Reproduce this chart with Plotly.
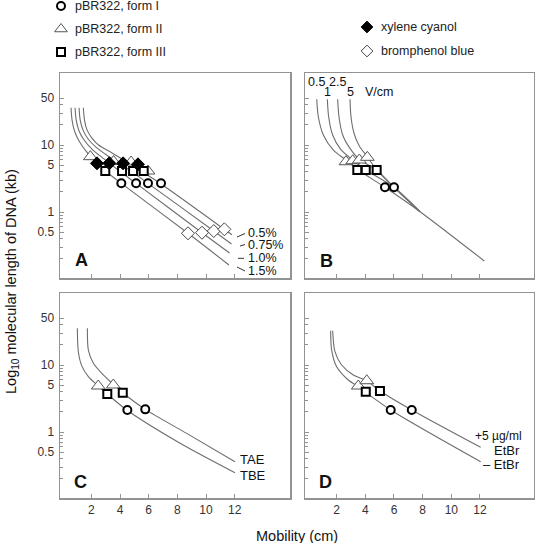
import plotly.graph_objects as go

W, H = 535, 543
FONT = "Liberation Sans, Arial, sans-serif"

# ---------------- Panel A : agarose concentration ----------------
a_curve_names = ["0.5%", "0.75%", "1.0%", "1.5%"]
a05_x = [1.44, 1.52, 1.70, 2.04, 2.50, 3.44, 4.70, 6.86, 11.28, 11.81]
a05_y = [36.0, 23.6, 16.7, 12.7, 10.0, 7.6, 5.2, 2.62, 0.552, 0.457]
a075_x = [1.14, 1.22, 1.42, 1.77, 2.32, 3.16, 4.35, 5.95, 10.54, 11.78]
a075_y = [36.0, 23.6, 16.7, 12.3, 9.3, 6.85, 4.69, 2.68, 0.52, 0.333]
a10_x = [0.86, 0.94, 1.14, 1.49, 2.04, 2.88, 3.86, 5.12, 9.72, 11.64]
a10_y = [36.0, 23.6, 16.2, 11.9, 8.7, 6.2, 4.24, 2.68, 0.491, 0.244]
a15_x = [0.58, 0.65, 0.82, 1.14, 1.63, 2.32, 3.16, 4.09, 8.74, 11.6]
a15_y = [36.0, 23.6, 16.2, 11.5, 8.1, 5.6, 3.82, 2.68, 0.481, 0.162]

a_formI_x = [4.09, 5.12, 5.95, 6.86]
a_formI_y = [2.68, 2.68, 2.68, 2.68]
a_formII_x = [1.93, 3.55, 4.77, 5.95]
a_formII_y = [6.7, 5.67, 5.57, 4.09]
a_formIII_x = [2.97, 4.14, 4.91, 5.65]
a_formIII_y = [4.09, 4.09, 4.09, 4.09]
a_xylene_x = [2.39, 3.25, 4.21, 5.25]
a_xylene_y = [5.33, 5.33, 5.33, 5.15]
a_bromo_x = [8.74, 9.72, 10.54, 11.28]
a_bromo_y = [0.481, 0.491, 0.52, 0.552]

# ---------------- Panel B : voltage ----------------
b_curve_names = ["0.5", "1", "2.5", "5"]
b05_x = [0.61, 0.72, 1.07, 1.77, 2.65, 3.44, 5.37, 7.82, 12.30]
b05_y = [48.1, 26.4, 14.1, 8.4, 5.97, 4.34, 2.34, 1.01, 0.186]
b1_x = [1.35, 1.44, 1.72, 2.28, 3.12, 4.03, 6.0, 7.82]
b1_y = [48.1, 26.4, 14.1, 8.6, 5.97, 4.24, 2.34, 1.01]
b25_x = [2.07, 2.16, 2.42, 2.93, 3.58, 4.79, 6.0, 7.82]
b25_y = [48.1, 26.4, 14.1, 8.9, 6.1, 4.24, 2.34, 1.01]
b5_x = [2.93, 3.0, 3.21, 3.58, 4.14, 4.79, 6.0, 7.82]
b5_y = [48.1, 26.4, 15.0, 9.7, 6.7, 4.24, 2.34, 1.01]

b_formI_x = [5.37, 6.0]
b_formI_y = [2.34, 2.34]
b_formII_x = [2.65, 3.12, 3.58, 4.14]
b_formII_y = [5.63, 5.83, 5.97, 6.55]
b_formIII_x = [3.44, 4.03, 4.79]
b_formIII_y = [4.24, 4.24, 4.24]

# ---------------- Panel C : buffer ----------------
c_curve_names = ["TAE", "TBE"]
c_tae_x = [1.72, 1.79, 2.14, 2.83, 3.53, 4.19, 5.76, 8.65, 12.02]
c_tae_y = [35.3, 16.7, 10.6, 7.1, 5.15, 3.86, 2.18, 0.955, 0.36]
c_tbe_x = [1.02, 1.09, 1.33, 1.79, 2.48, 3.11, 4.47, 8.19, 12.02]
c_tbe_y = [35.3, 15.8, 9.7, 6.7, 4.86, 3.69, 2.13, 0.68, 0.247]

c_formI_x = [4.51, 5.76]
c_formI_y = [2.13, 2.18]
c_formII_x = [2.48, 3.53]
c_formII_y = [4.86, 5.03]
c_formIII_x = [3.11, 4.19]
c_formIII_y = [3.69, 3.86]

# ---------------- Panel D : ethidium bromide ----------------
d_curve_names = ["+5 µg/ml", "EtBr", "– EtBr"]
d_plus_x = [1.72, 1.88, 2.35, 3.16, 4.10, 5.02, 7.24, 12.05]
d_plus_y = [32.5, 15.8, 10.0, 7.1, 5.83, 4.09, 2.13, 0.59]
d_minus_x = [1.58, 1.65, 2.0, 2.81, 3.51, 4.03, 5.77, 12.05]
d_minus_y = [32.5, 16.7, 9.4, 5.97, 4.74, 3.91, 2.13, 0.36]

d_formI_x = [5.77, 7.24]
d_formI_y = [2.13, 2.13]
d_formII_x = [3.51, 4.10]
d_formII_y = [4.86, 5.83]
d_formIII_x = [4.03, 5.02]
d_formIII_y = [3.99, 4.09]

# ---------------- axes ticks / key ----------------
x_tickvals = [2, 4, 6, 8, 10, 12]
y_tickvals = [0.5, 1, 5, 10, 50]
y_ticktext = ["0.5", "1", "5", "10", "50"]
y_minor = [0.2, 0.3, 0.4, 0.6, 0.7, 0.8, 0.9, 2, 3, 4, 6, 7, 8, 9, 20, 30, 40]
key_names = ["pBR322, form I", "pBR322, form II", "pBR322, form III",
             "xylene cyanol", "bromphenol blue"]

# ---------------- styling ----------------
CURVE = dict(color="#6e6e6e", width=1.1, shape="spline", smoothing=0.8)
M_I = dict(symbol="circle", size=8, color="white", line=dict(color="black", width=2))
M_II = dict(symbol="triangle-up", size=12, color="white", line=dict(color="#555", width=1))
M_III = dict(symbol="square", size=8, color="white", line=dict(color="black", width=2))
M_XY = dict(symbol="diamond", size=10, color="black", line=dict(color="black", width=1))
M_BB = dict(symbol="diamond", size=10, color="white", line=dict(color="#444", width=1))

fig = go.Figure()


def curve(x, y, xa, ya):
    fig.add_trace(go.Scatter(x=x, y=y, mode="lines", line=CURVE, xaxis=xa, yaxis=ya,
                             showlegend=False, hoverinfo="skip"))


def pts(x, y, xa, ya, marker, name):
    fig.add_trace(go.Scatter(x=x, y=y, mode="markers", marker=marker, xaxis=xa, yaxis=ya,
                             name=name, showlegend=False))


for cx, cy in [(a05_x, a05_y), (a075_x, a075_y), (a10_x, a10_y), (a15_x, a15_y)]:
    curve(cx, cy, "x", "y")
for cx, cy in [(b05_x, b05_y), (b1_x, b1_y), (b25_x, b25_y), (b5_x, b5_y)]:
    curve(cx, cy, "x2", "y2")
for cx, cy in [(c_tae_x, c_tae_y), (c_tbe_x, c_tbe_y)]:
    curve(cx, cy, "x3", "y3")
for cx, cy in [(d_plus_x, d_plus_y), (d_minus_x, d_minus_y)]:
    curve(cx, cy, "x4", "y4")

pts(a_formII_x, a_formII_y, "x", "y", M_II, key_names[1])
pts(a_formIII_x, a_formIII_y, "x", "y", M_III, key_names[2])
pts(a_formI_x, a_formI_y, "x", "y", M_I, key_names[0])
pts(a_xylene_x, a_xylene_y, "x", "y", M_XY, key_names[3])
pts(a_bromo_x, a_bromo_y, "x", "y", M_BB, key_names[4])

for xa, ya, fII, fIII, fI in [
    ("x2", "y2", (b_formII_x, b_formII_y), (b_formIII_x, b_formIII_y), (b_formI_x, b_formI_y)),
    ("x3", "y3", (c_formII_x, c_formII_y), (c_formIII_x, c_formIII_y), (c_formI_x, c_formI_y)),
    ("x4", "y4", (d_formII_x, d_formII_y), (d_formIII_x, d_formIII_y), (d_formI_x, d_formI_y)),
]:
    pts(*fII, xa, ya, M_II, key_names[1])
    pts(*fIII, xa, ya, M_III, key_names[2])
    pts(*fI, xa, ya, M_I, key_names[0])


def px(xp):
    return xp / W


def py(yp):
    return 1 - yp / H


# key (legend) symbols drawn on an overlay axis measured in page pixels
key_px = [61, 61, 61, 367, 367]
key_py = [6, 29, 52, 27, 51]
key_markers = [M_I, dict(M_II, size=11), M_III, dict(M_XY, size=9), dict(M_BB, size=9)]
for kx, ky, km, kn in zip(key_px, key_py, key_markers, key_names):
    fig.add_trace(go.Scatter(x=[kx], y=[ky], mode="markers", marker=km, xaxis="x5", yaxis="y5",
                             name=kn, showlegend=False, hoverinfo="skip", cliponaxis=False))

LINEC = "#939393"
TICKF = dict(family=FONT, size=12, color="#333")


def xaxis(dom, rng, labels, anchor):
    return dict(domain=dom, range=rng, anchor=anchor, tickvals=x_tickvals, ticks="inside",
                ticklen=4, tickcolor=LINEC, showline=True, mirror=True, linecolor=LINEC,
                linewidth=1.5, showgrid=False, zeroline=False, showticklabels=labels,
                tickfont=TICKF)


def yaxis(dom, labels, anchor):
    return dict(domain=dom, type="log", range=[-0.985, 2.075], anchor=anchor,
                tickvals=y_tickvals, ticktext=y_ticktext, ticks="inside", ticklen=4,
                tickcolor=LINEC,
                minor=dict(tickvals=y_minor, ticks="inside", ticklen=2.5, tickcolor=LINEC),
                showline=True, mirror=True, linecolor=LINEC, linewidth=1.5, showgrid=False,
                zeroline=False, showticklabels=labels, tickfont=TICKF, ticklabelstandoff=2)


xdL = [px(60), px(290)]
xdR = [px(305), px(534)]
ydT = [py(278), py(73)]
ydB = [py(498), py(293)]

fig.update_layout(
    width=W, height=H, margin=dict(l=0, r=0, t=0, b=0, autoexpand=False),
    paper_bgcolor="white", plot_bgcolor="rgba(0,0,0,0)", showlegend=False,
    font=dict(family=FONT, color="#222"), hovermode=False,
    xaxis=xaxis(xdL, [-0.19, 15.86], False, "y"), yaxis=yaxis(ydT, True, "x"),
    xaxis2=xaxis(xdR, [-0.21, 15.77], False, "y2"), yaxis2=yaxis(ydT, False, "x2"),
    xaxis3=xaxis(xdL, [-0.19, 15.86], True, "y3"), yaxis3=yaxis(ydB, True, "x3"),
    xaxis4=xaxis(xdR, [-0.21, 15.77], True, "y4"), yaxis4=yaxis(ydB, False, "x4"),
    xaxis5=dict(domain=[0, 1], range=[0, W], anchor="y5", visible=False, fixedrange=True),
    yaxis5=dict(domain=[0, 1], range=[H, 0], anchor="x5", visible=False, fixedrange=True),
)

ann = []


def text(t, x, y, size=12.5, xanchor="left", bold=False, color="#111", angle=0):
    ann.append(dict(text=("<b>%s</b>" % t) if bold else t, x=px(x), y=py(y), xref="paper",
                    yref="paper", showarrow=False, xanchor=xanchor, yanchor="middle",
                    textangle=angle, font=dict(family=FONT, size=size, color=color)))


# key texts
for kn, kx, ky in zip(key_names, key_px, key_py):
    text(kn, kx + 12, ky, 12.5, "left", color="#222")

# panel letters
text("A", 81, 260, 18, "center", True)
text("B", 326, 261, 18, "center", True)
text("C", 80, 482, 18, "center", True)
text("D", 325, 482, 18, "center", True)

# panel A curve labels
for lab, yy in zip(a_curve_names, [233.5, 245, 258, 271]):
    text(lab, 245.5, yy, 12.5)
# panel B labels
text(b_curve_names[0], 316.5, 82, 12.5, "center")
text(b_curve_names[2], 337.5, 82, 12.5, "center")
text(b_curve_names[1], 327, 92, 12.5, "center")
text(b_curve_names[3], 350, 92, 12.5, "center")
text("V/cm", 379, 92, 12.5, "center")
# panel C labels
text(c_curve_names[0], 238, 460, 13)
text(c_curve_names[1], 238, 475, 13)
# panel D labels
text(d_curve_names[0], 524, 436, 12, "right")
text(d_curve_names[1], 522, 450, 13, "right")
text(d_curve_names[2], 522, 464, 13, "right")

# axis titles
text("Log<sub>10</sub> molecular length of DNA (kb)", 12, 282, 14.5, "center", angle=-90)
text("Mobility (cm)", 297, 536, 14.5, "center")
fig.update_layout(annotations=ann)

# leader dashes for panel A labels
shapes = []
for (x0, y0, x1, y1) in [(237, 237, 245, 233.5), (240, 246, 245, 244.5),
                         (238, 258.3, 244, 258.3), (237, 267, 245, 271)]:
    shapes.append(dict(type="line", xref="paper", yref="paper", x0=px(x0), y0=py(y0),
                       x1=px(x1), y1=py(y1), line=dict(color="#333", width=1)))
fig.update_layout(shapes=shapes)

fig.write_html("out.html", config={"displayModeBar": False, "staticPlot": True},
               post_script="document.body.style.margin='0';")
